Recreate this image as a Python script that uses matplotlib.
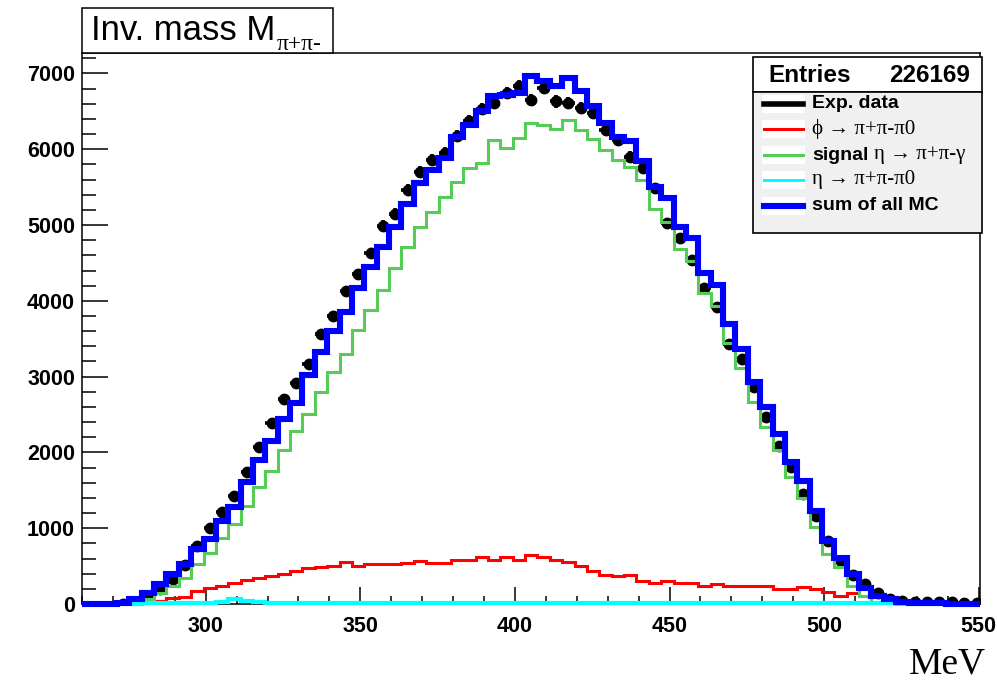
import numpy as np
import matplotlib
matplotlib.use("Agg")
import matplotlib.pyplot as plt
from matplotlib.patches import Rectangle
from matplotlib.lines import Line2D
from matplotlib.ticker import MultipleLocator

plt.rcParams['font.family'] = ['Liberation Sans', 'DejaVu Sans']
SERIF = ['Liberation Serif', 'DejaVu Serif']

# ---------------- data (73 bins, 4 MeV wide) ----------------
bin_lo = 259.3
bin_w = 4.0

exp_data = [0, 0, 0, 5, 25, 90, 200, 330, 520, 765,
            1000, 1220, 1430, 1737, 2068, 2385, 2708, 2914, 3170, 3560,
            3796, 4135, 4356, 4634, 4990, 5150, 5463, 5700, 5855, 5950,
            6180, 6378, 6533, 6609, 6742, 6829, 6653, 6808, 6631, 6609,
            6544, 6478, 6257, 6124, 5904, 5750, 5485, 5022, 4824, 4537,
            4163, 3919, 3435, 3237, 2861, 2464, 2090, 1803, 1451, 1164,
            833, 569, 380, 260, 150, 70, 45, 30, 25, 20,
            20, 15, 15]

phi_3pi = [0, 0, 0, 0, 5, 20, 40, 80, 95, 172,
           216, 238, 282, 313, 348, 370, 401, 437, 472, 489,
           503, 560, 503, 525, 533, 533, 535, 561, 539, 539,
           582, 582, 625, 582, 625, 582, 646, 625, 582, 548,
           496, 432, 389, 368, 389, 304, 282, 304, 282, 282,
           240, 261, 240, 240, 240, 240, 197, 197, 218, 197,
           154, 111, 146, 111, 90, 50, 15, 0, 0, 0,
           0, 0, 0]

signal_eta = [0, 0, 0, 0, 20, 70, 140, 238, 348, 525,
              679, 877, 1054, 1296, 1538, 1759, 2035, 2288, 2509, 2795,
              3060, 3303, 3610, 3880, 4140, 4427, 4713, 4978, 5176, 5374,
              5573, 5750, 5816, 6124, 6014, 6147, 6345, 6314, 6270, 6389,
              6257, 6138, 5992, 5860, 5771, 5595, 5210, 5035, 4680, 4530,
              4105, 3930, 3445, 3115, 2670, 2340, 2035, 1670, 1395, 1020,
              665, 490, 240, 100, 25, 10, 10, 0, 0, 0,
              0, 0, 0]

eta_3pi = [0, 0, 0, 0, 3, 8, 10, 12, 12, 15,
           15, 30, 60, 40, 20, 18, 18, 15, 15, 15,
           15, 15, 15, 15, 15, 15, 15, 15, 15, 15,
           15, 15, 15, 15, 15, 15, 15, 15, 15, 15,
           15, 15, 15, 15, 15, 15, 15, 15, 15, 15,
           15, 15, 15, 15, 15, 15, 15, 15, 15, 15,
           15, 15, 15, 15, 15, 10, 0, 0, 0, 0,
           0, 0, 0]

sum_mc = [0, 0, 0, 8, 60, 150, 260, 393, 525, 725,
          856, 1098, 1274, 1604, 1900, 2155, 2440, 2649, 3016, 3324,
          3600, 3853, 4170, 4440, 4713, 4978, 5278, 5551, 5728, 5880,
          6168, 6323, 6499, 6697, 6720, 6742, 6971, 6896, 6839, 6940,
          6763, 6565, 6345, 6168, 6110, 5850, 5507, 5353, 4978, 4824,
          4361, 4206, 3700, 3369, 2927, 2597, 2248, 1880, 1627, 1230,
          833, 612, 393, 216, 106, 62, 30, 15, 10, 8,
          5, 5, 5]

x_ticks = [300, 350, 400, 450, 500, 550]
y_ticks = [0, 1000, 2000, 3000, 4000, 5000, 6000, 7000]
entries = "226169"
# (sans-bold prefix, serif part)
labels = [("Exp. data", ""),
          ("", "\u03d5 \u2192 \u03c0+\u03c0-\u03c00"),
          ("signal", "\u03b7 \u2192 \u03c0+\u03c0-\u03b3"),
          ("", "\u03b7 \u2192 \u03c0+\u03c0-\u03c00"),
          ("sum of all MC", "")]

# ---------------- figure ----------------
W, H = 997, 687
fig = plt.figure(figsize=(W / 100, H / 100), dpi=100)
ax = fig.add_axes([82 / W, 1 - 604 / H, 898 / W, 551 / H])

# clip region: axes x-range, slightly extended vertically so lines at 0 keep full width
clip = Rectangle((0, -0.02), 1, 1.04, transform=ax.transAxes, fc='none', ec='none')

edges = bin_lo + bin_w * np.arange(len(exp_data) + 1)
centers = edges[:-1] + bin_w / 2
d = np.array(exp_data, dtype=float)
m = d > 0
ax.errorbar(centers[m], d[m], xerr=bin_w / 2, yerr=np.sqrt(d[m]), fmt='o',
            color='black', ms=7.5, elinewidth=2.6, capsize=0, zorder=2)

ax.stairs(phi_3pi, edges, baseline=None, color='#ff0000', lw=2.2, zorder=3)
ax.stairs(signal_eta, edges, baseline=None, color='#55cc55', lw=2.2, zorder=3)
cy = ax.stairs(eta_3pi, edges, baseline=None, color='#00ffff', lw=3.0, zorder=4)
bl = ax.stairs(sum_mc, edges, baseline=None, color='#0000ff', lw=4.4, zorder=5)
for art in (cy, bl):
    art.set_clip_path(clip)

ax.set_xlim(260, 550.4)
ax.set_ylim(0, 7270)

for s in ax.spines.values():
    s.set_linewidth(1.1)

ax.set_xticks(x_ticks)
ax.set_xticklabels([str(t) for t in x_ticks], fontsize=15.5, fontweight='bold')
ax.set_yticks(y_ticks)
ax.set_yticklabels([str(t) for t in y_ticks], fontsize=15.5, fontweight='bold')
ax.xaxis.set_minor_locator(MultipleLocator(10))
ax.yaxis.set_minor_locator(MultipleLocator(200))
ax.tick_params(which='both', direction='in', top=False, right=False, width=1.1)
ax.xaxis.set_tick_params(which='major', length=12, pad=9)
ax.xaxis.set_tick_params(which='minor', length=6)
ax.yaxis.set_tick_params(which='major', length=18.5, pad=5)
ax.yaxis.set_tick_params(which='minor', length=10)

# ---------------- title box ----------------
def fr(x0, y0, x1, y1):
    return (x0 / W, 1 - y1 / H), (x1 - x0) / W, (y1 - y0) / H

xy, w, h = fr(82, 8, 333, 53)
fig.add_artist(Rectangle(xy, w, h, transform=fig.transFigure, fc='white',
                         ec='black', lw=1.1, zorder=10))
fig.text(91 / W, 1 - 30 / H, "Inv. mass M", fontsize=25,
         va='center', ha='left', zorder=11)
fig.text(277 / W, 1 - 44 / H, "\u03c0+\u03c0-", family=SERIF, fontsize=17,
         va='center', ha='left', zorder=11)

# x axis unit
fig.text(986 / W, 1 - 664 / H, "MeV", family=SERIF, fontsize=27,
         ha='right', va='center')

# ---------------- stats + legend ----------------
xy, w, h = fr(753, 57, 982, 92)
fig.add_artist(Rectangle(xy, w, h, transform=fig.transFigure, fc='white',
                         ec='black', lw=1.2, zorder=10))
fig.text(768 / W, 1 - 75 / H, "Entries", fontsize=17.5, fontweight='bold',
         va='center', ha='left', zorder=11)
fig.text(970 / W, 1 - 75 / H, entries, fontsize=17.5, fontweight='bold',
         va='center', ha='right', zorder=11)

xy, w, h = fr(753, 92, 982, 233)
fig.add_artist(Rectangle(xy, w, h, transform=fig.transFigure, fc='#f0f0f0',
                         ec='black', lw=1.2, zorder=10))
row_y = [104, 129, 155, 180, 206]
styles = [('black', 4.0), ('#ff0000', 2.2), ('#55cc55', 2.2), ('#00ffff', 2.2),
          ('#0000ff', 4.4)]
for yy, (sans, serif), (c, lw) in zip(row_y, labels, styles):
    xy, w, h = fr(762, yy - 9, 805, yy + 9)
    fig.add_artist(Rectangle(xy, w, h, transform=fig.transFigure, fc='white',
                             ec='none', zorder=11))
    fig.add_artist(Line2D([764 / W, 803 / W], [1 - yy / H, 1 - yy / H],
                          transform=fig.transFigure, color=c, lw=lw, zorder=12))
    x_txt = 812
    if sans:
        fig.text(x_txt / W, 1 - yy / H, sans, fontsize=14, fontweight='bold',
                 va='center', ha='left', zorder=12)
        x_txt = 874
    if serif:
        fig.text(x_txt / W, 1 - yy / H, serif, family=SERIF, fontsize=15,
                 va='center', ha='left', zorder=12)

fig.savefig("out.png", dpi=100)
